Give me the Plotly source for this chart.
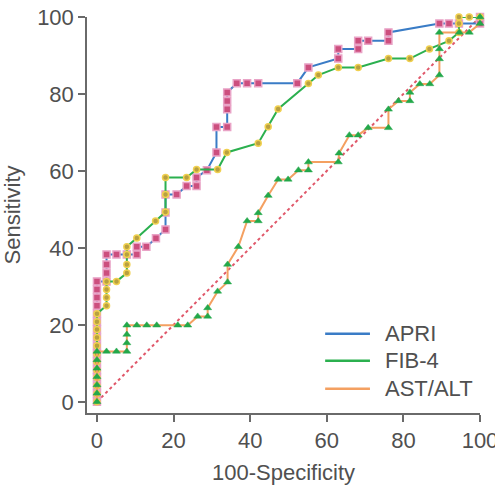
import plotly.graph_objects as go

# ---- data ----
apri_x = [0]*16 + [2.5, 2.5, 2.5, 2.5, 5.1, 7.8, 10.4, 10.4, 12.9, 15.4, 17.9, 17.9, 17.9,
                   20.8, 23.4, 26.0, 26.0, 28.7, 31.2, 31.2, 34.0, 34.0, 34.0, 34.0, 36.5,
                   39.2, 42.1, 52.3, 55.2, 63.0, 63.0, 68.2, 68.2, 70.8, 76.1, 76.1, 89.4,
                   91.9, 94.5, 100, 100]
apri_y = [0, 2.1, 4.2, 6.3, 8.3, 10.4, 12.5, 14.6, 16.7, 18.8, 20.8, 22.9, 25.0, 27.1, 29.2, 31.3,
          31.3, 33.5, 35.7, 38.3, 38.3, 38.3, 38.3, 40.3, 40.3, 42.5, 44.8, 49.2, 53.9,
          53.9, 56.1, 56.1, 58.3, 60.2, 64.8, 71.4, 71.4, 76.0, 78.2, 80.4, 82.8,
          82.8, 82.8, 82.8, 86.9, 89.2, 91.7, 91.7, 93.8, 93.8, 93.8, 96.0, 98.3,
          98.3, 98.3, 98.3, 100]

fib4_x = [0]*12 + [2.5, 2.5, 2.5, 2.5, 5.1, 7.8, 7.8, 7.8, 7.8, 10.4, 15.3, 17.9, 17.9, 17.9,
                   23.4, 26.0, 31.5, 33.9, 42.1, 44.7, 47.3, 55.2, 57.8, 63.0, 68.2, 76.1,
                   81.7, 86.8, 91.9, 94.5, 94.5, 94.5, 97.2, 100]
fib4_y = [0, 2.1, 4.2, 6.3, 8.3, 10.4, 12.5, 14.6, 16.7, 18.8, 20.8, 22.9,
          25.0, 27.1, 29.2, 31.3, 31.3, 33.5, 35.7, 38.3, 40.3, 42.6, 47.0, 49.3, 53.9, 58.3,
          58.3, 60.4, 60.4, 64.8, 67.2, 71.5, 76.1, 82.7, 84.9, 86.9, 86.9, 89.2,
          89.2, 91.7, 93.8, 96.0, 98.3, 100, 100, 100]

astalt_x = [0]*7 + [2.5, 5.1, 7.8, 7.8, 7.8, 7.8, 10.4, 13.0, 15.6, 21.1, 23.7, 26.3, 28.9, 28.9,
                    31.5, 34.1, 34.1, 36.9, 39.2, 42.1, 42.1, 44.7, 47.3, 49.9, 52.6, 55.2,
                    55.2, 63.0, 63.2, 65.9, 68.2, 70.8, 76.1, 76.1, 78.7, 81.7, 81.7, 84.3,
                    86.9, 89.4, 89.4, 89.4, 89.4, 94.6, 97.2, 100, 100]
astalt_y = [0, 2.2, 4.4, 6.5, 8.7, 10.9, 13.1,
            13.1, 13.1, 13.1, 15.3, 17.5, 19.9, 19.9, 19.9, 19.9, 19.9, 19.9, 22.2, 22.2, 24.4,
            28.7, 31.1, 35.7, 40.3, 47.0, 47.0, 49.1, 53.6, 57.8, 57.8, 60.2, 60.2,
            62.3, 62.3, 64.6, 69.3, 69.3, 71.2, 71.2, 76.0, 78.2, 78.2, 80.4, 82.6,
            82.6, 84.9, 89.1, 91.7, 96.0, 96.0, 96.0, 98.3, 100]

ref_x = [0, 100]
ref_y = [0, 100]

series_names = ["APRI", "FIB-4", "AST/ALT"]
tick_vals = [0, 20, 40, 60, 80, 100]

FONT = "Liberation Sans, Arial, Helvetica, sans-serif"
TXT = "#505050"
AX = "#6a6a6a"

fig = go.Figure()

fig.add_trace(go.Scatter(x=ref_x, y=ref_y, mode="lines",
                         line=dict(color="#e0586a", width=2, dash="dot"),
                         showlegend=False, hoverinfo="skip"))

fig.add_trace(go.Scatter(x=apri_x, y=apri_y, mode="lines+markers", name=series_names[0],
                         line=dict(color="#3a7cc6", width=2),
                         marker=dict(symbol="square", size=7, color="#cc4f7e",
                                     line=dict(color="#e9a3c6", width=1.5)),
                         cliponaxis=False, showlegend=False))

fig.add_trace(go.Scatter(x=fib4_x, y=fib4_y, mode="lines+markers", name=series_names[1],
                         line=dict(color="#2bb04f", width=2),
                         marker=dict(symbol="circle", size=6, color="#b8a040",
                                     line=dict(color="#f0d050", width=1.5)),
                         cliponaxis=False, showlegend=False))

fig.add_trace(go.Scatter(x=astalt_x, y=astalt_y, mode="lines+markers", name=series_names[2],
                         line=dict(color="#f4a061", width=2),
                         marker=dict(symbol="triangle-up", size=7, color="#23a84a",
                                     line=dict(color="#23a84a", width=0.5)),
                         cliponaxis=False, showlegend=False))

# legend drawn as line samples + labels (line-only, like the reference)
legend_colors = ["#3a7cc6", "#2bb04f", "#f4a061"]
legend_rows = [0.200, 0.132, 0.061]
for name, col, yy in zip(series_names, legend_colors, legend_rows):
    fig.add_shape(type="line", xref="paper", yref="paper",
                  x0=0.606, x1=0.72, y0=yy, y1=yy,
                  line=dict(color=col, width=2.5))
    fig.add_annotation(xref="paper", yref="paper", x=0.753, y=yy, text=name,
                       showarrow=False, xanchor="left", yanchor="middle",
                       font=dict(family=FONT, size=22, color=TXT))

axis_common = dict(showline=True, linecolor=AX, linewidth=1.5, ticks="outside",
                   ticklen=7, tickwidth=1.5, tickcolor=AX, showgrid=False,
                   zeroline=False, tickvals=tick_vals, ticklabeloverflow="allow",
                   tickfont=dict(family=FONT, size=22, color=TXT))

fig.update_xaxes(range=[-2.6, 100], title=dict(text="100-Specificity", standoff=12,
                 font=dict(family=FONT, size=22, color=TXT)), **axis_common)
fig.update_yaxes(range=[-2.9, 100], title=dict(text="Sensitivity", standoff=10,
                 font=dict(family=FONT, size=22, color=TXT)), **axis_common)

fig.update_layout(width=495, height=488, margin=dict(l=87, r=15, t=17, b=75, autoexpand=False),
                  plot_bgcolor="white", paper_bgcolor="white", showlegend=False)

fig.write_html("out.html")
